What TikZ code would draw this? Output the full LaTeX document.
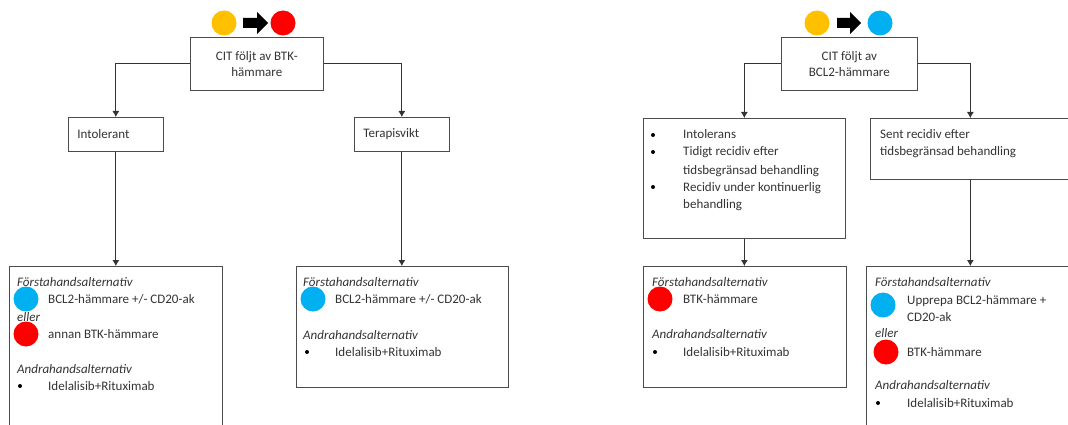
\documentclass[tikz,border=0pt]{standalone}
\usepackage{fontspec}
\setmainfont{Carlito}
\usetikzlibrary{arrows.meta}
\definecolor{citgul}{HTML}{FFC000}
\definecolor{btkrod}{HTML}{FF0000}
\definecolor{bclbla}{HTML}{00B0F0}
\begin{document}
\begin{tikzpicture}[x=1pt,y=-1pt,>={Latex[length=6pt,width=7pt]},
    font=\fontsize{13}{16}\selectfont,text=black!80,
    ruta/.style={draw=black!70,line width=0.7pt,anchor=north west,inner sep=0pt},
    txt/.style={anchor=base west,inner sep=0pt},
    kursiv/.style={txt,font=\fontsize{13}{16}\selectfont\itshape},
    prick/.style={circle,fill=#1,minimum size=25pt,inner sep=0pt},
    punkt/.style={circle,fill=black,minimum size=4pt,inner sep=0pt},
    pil/.style={->,draw=black!80,line width=0.8pt}]
\useasboundingbox (0,0) rectangle (1068,425);
\clip (0,0) rectangle (1068,425);

% vanster: CIT foljt av BTK-hammare
\node[prick=citgul] (gul1) at (224,23) {};
\fill (243,18) -- (257,18) -- (257,12) -- (268,23) -- (257,34) -- (257,28) -- (243,28) -- cycle;
\node[prick=btkrod] (rod1) at (283,23) {};
\node[ruta,minimum width=133pt,minimum height=53pt,align=center] (cit1) at (190,37) {CIT följt av BTK-\\hämmare};
\node[ruta,inner xsep=9pt,text width=77pt,minimum height=34pt] (int1) at (68,117) {Intolerant};
\node[ruta,inner xsep=9pt,text width=77pt,minimum height=34pt] (ter1) at (354,117) {Terapisvikt};
\node[ruta,minimum width=213pt,minimum height=190pt] (alt1) at (9,266) {};
\node[ruta,minimum width=212pt,minimum height=121pt] (alt2) at (296,266) {};

\draw[pil] (cit1.west) -| (int1.north);
\draw[pil] (cit1.east) -| (ter1.north);
\draw[pil] (int1.south) -- (int1.south |- alt1.north);
\draw[pil] (ter1.south) -- (ter1.south |- alt2.north);

\node[kursiv] (f1) at (17,286) {Förstahandsalternativ};
\node[prick=bclbla] (b1) at (26,299) {};
\node[txt] (t1) at (48,303) {BCL2-hämmare +/- CD20-ak};
\node[kursiv] (e1) at (17,321) {eller};
\node[prick=btkrod] (r1) at (26,334) {};
\node[txt] (t2) at (48,338) {annan BTK-hämmare};
\node[kursiv] (a1) at (17,373) {Andrahandsalternativ};
\node[punkt] (p1) at (20,386) {};
\node[txt] (t3) at (48,390) {Idelalisib+Rituximab};

\node[kursiv] (f2) at (303,286) {Förstahandsalternativ};
\node[prick=bclbla] (b2) at (313,299) {};
\node[txt] (t4) at (335,303) {BCL2-hämmare +/- CD20-ak};
\node[kursiv] (a2) at (303,339) {Andrahandsalternativ};
\node[punkt] (p2) at (307,352) {};
\node[txt] (t5) at (335,356) {Idelalisib+Rituximab};

% hoger: CIT foljt av BCL2-hammare
\node[prick=citgul] (gul2) at (817,23) {};
\fill (837,18) -- (850,18) -- (850,12) -- (861,23) -- (850,34) -- (850,28) -- (837,28) -- cycle;
\node[prick=bclbla] (bla2) at (880,23) {};
\node[ruta,minimum width=136pt,minimum height=53pt,align=center] (cit2) at (781,37) {CIT följt av\\BCL2-hämmare};
\node[ruta,minimum width=202pt,minimum height=120pt] (lst2) at (643,118) {};
\node[ruta,minimum width=200pt,minimum height=61pt] (sen2) at (870,118) {};
\node[ruta,minimum width=203pt,minimum height=121pt] (alt3) at (643,266) {};
\node[ruta,minimum width=208pt,minimum height=190pt] (alt4) at (866,266) {};

\draw[pil] (cit2.west) -| (lst2.north);
\draw[pil] (cit2.east) -| (sen2.north);
\draw[pil] (lst2.south) -- (lst2.south |- alt3.north);
\draw[pil] (sen2.south) -- (sen2.south |- alt4.north);

\node[punkt] (p3) at (653,135) {};
\node[txt] (l1) at (683,139) {Intolerans};
\node[punkt] (p4) at (653,152) {};
\node[txt] (l2) at (683,156) {Tidigt recidiv efter};
\node[txt] (l3) at (683,174) {tidsbegränsad behandling};
\node[punkt] (p5) at (653,187) {};
\node[txt] (l4) at (683,191) {Recidiv under kontinuerlig};
\node[txt] (l5) at (683,208) {behandling};

\node[txt] (s1) at (880,139) {Sent recidiv efter};
\node[txt] (s2) at (880,156) {tidsbegränsad behandling};

\node[kursiv] (f3) at (652,286) {Förstahandsalternativ};
\node[prick=btkrod] (r3) at (660,299) {};
\node[txt] (t6) at (683,303) {BTK-hämmare};
\node[kursiv] (a3) at (652,338) {Andrahandsalternativ};
\node[punkt] (p6) at (655,352) {};
\node[txt] (t7) at (683,356) {Idelalisib+Rituximab};

\node[kursiv] (f4) at (875,286) {Förstahandsalternativ};
\node[prick=bclbla] (b4) at (883,305) {};
\node[txt] (t8) at (907,304) {Upprepa BCL2-hämmare +};
\node[txt] (t9) at (907,321) {CD20-ak};
\node[kursiv] (e4) at (875,337) {eller};
\node[prick=btkrod] (r4) at (886,352) {};
\node[txt] (t10) at (907,356) {BTK-hämmare};
\node[kursiv] (a4) at (875,389) {Andrahandsalternativ};
\node[punkt] (p7) at (878,403) {};
\node[txt] (t11) at (907,407) {Idelalisib+Rituximab};
\end{tikzpicture}
\end{document}
